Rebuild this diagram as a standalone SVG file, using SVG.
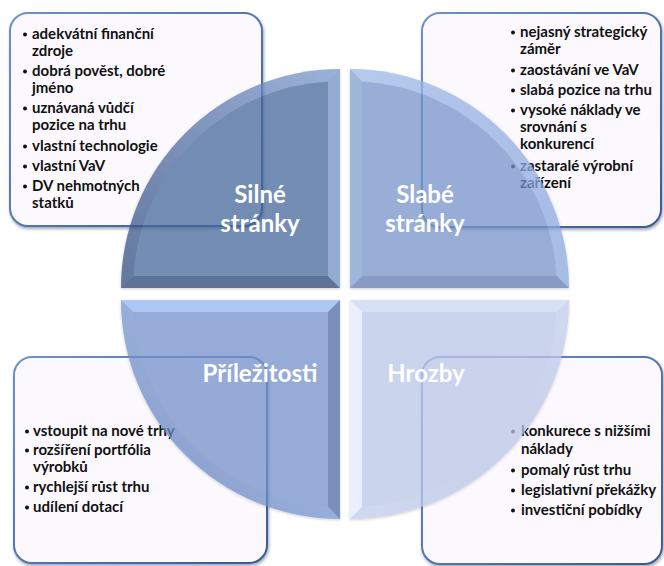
<svg xmlns="http://www.w3.org/2000/svg" width="664" height="566" viewBox="0 0 664 566">
<defs>
<filter id="boxShadow" x="-10%" y="-10%" width="125%" height="125%">
<feDropShadow dx="1" dy="2" stdDeviation="1.8" flood-color="#1a2a4a" flood-opacity="0.4"/>
</filter>
<filter id="qShadow" x="-10%" y="-10%" width="120%" height="120%">
<feDropShadow dx="0" dy="1" stdDeviation="1.5" flood-color="#404850" flood-opacity="0.35"/>
</filter>
<linearGradient id="boxStroke" x1="0" y1="0" x2="1" y2="1">
<stop offset="0" stop-color="#6f92c8"/>
<stop offset="1" stop-color="#3a5a94"/>
</linearGradient>
<linearGradient id="rimTL" x1="1" y1="0" x2="0" y2="1">
<stop offset="0" stop-color="#7a98cc"/>
<stop offset="1" stop-color="#2e4a7e"/>
</linearGradient>
<linearGradient id="rimTR" x1="0" y1="0" x2="1" y2="1">
<stop offset="0" stop-color="#9db8e6"/>
<stop offset="1" stop-color="#88a6dc"/>
</linearGradient>
<linearGradient id="rimBL" x1="1" y1="0" x2="0" y2="1">
<stop offset="0" stop-color="#8eaeea"/>
<stop offset="1" stop-color="#5d79b2"/>
</linearGradient>
<linearGradient id="rimBR" x1="0" y1="0" x2="1" y2="1">
<stop offset="0" stop-color="#d4def6"/>
<stop offset="1" stop-color="#aebbe0"/>
</linearGradient>
<style>
.box{fill:#fbf9fe;stroke:url(#boxStroke);stroke-width:2;filter:url(#boxShadow);}
.t{font-family:Lato,"Open Sans","Liberation Sans",sans-serif;font-weight:700;font-size:15px;fill:#111111;}
.b{fill:#111111;}
.lbl{font-family:Lato,"Open Sans","Liberation Sans",sans-serif;font-weight:700;font-size:24px;fill:#ffffff;text-anchor:middle;}
.q{opacity:0.75;filter:url(#qShadow);}
</style>
</defs>

<g id="box-silne">
<rect class="box" x="10" y="13" width="252" height="213" rx="18"/>
<g class="b">
<circle cx="25" cy="34.5" r="2"/><circle cx="25" cy="71.5" r="2"/><circle cx="25" cy="108.5" r="2"/>
<circle cx="25" cy="146.5" r="2"/><circle cx="25" cy="166.5" r="2"/><circle cx="25" cy="186.5" r="2"/>
</g>
<g class="t">
<text x="32" y="39">adekvátní finanční</text>
<text x="32" y="56">zdroje</text>
<text x="32" y="76">dobrá pověst, dobré</text>
<text x="32" y="93">jméno</text>
<text x="32" y="113">uznávaná vůdčí</text>
<text x="32" y="130">pozice na trhu</text>
<text x="32" y="151">vlastní technologie</text>
<text x="32" y="171">vlastní VaV</text>
<text x="32" y="191">DV nehmotných</text>
<text x="32" y="208">statků</text>
</g>
</g>

<g id="box-slabe">
<rect class="box" x="422" y="13" width="239" height="214" rx="18"/>
<g class="b">
<circle cx="513" cy="32.5" r="2"/><circle cx="513" cy="70.5" r="2"/><circle cx="513" cy="90.5" r="2"/>
<circle cx="513" cy="110.5" r="2"/><circle cx="513" cy="166.5" r="2"/>
</g>
<g class="t">
<text x="520" y="37">nejasný strategický</text>
<text x="520" y="54">záměr</text>
<text x="520" y="75">zaostávání ve VaV</text>
<text x="520" y="95">slabá pozice na trhu</text>
<text x="520" y="115">vysoké náklady ve</text>
<text x="520" y="132">srovnání s</text>
<text x="520" y="149">konkurencí</text>
<text x="520" y="171">zastaralé výrobní</text>
<text x="520" y="188">zařízení</text>
</g>
</g>

<g id="box-prilezitosti">
<rect class="box" x="14" y="357" width="253" height="206" rx="18"/>
<g class="b">
<circle cx="27" cy="431.5" r="2"/><circle cx="27" cy="450.5" r="2"/>
<circle cx="27" cy="487.5" r="2"/><circle cx="27" cy="507.5" r="2"/>
</g>
<g class="t">
<text x="33" y="436">vstoupit na nové trhy</text>
<text x="33" y="455">rozšíření portfólia</text>
<text x="33" y="472">výrobků</text>
<text x="33" y="492">rychlejší růst trhu</text>
<text x="33" y="512">udílení dotací</text>
</g>
</g>

<g id="box-hrozby">
<rect class="box" x="422" y="357" width="240" height="207" rx="18"/>
<g class="b">
<circle cx="513" cy="431.5" r="2"/><circle cx="513" cy="470.5" r="2"/>
<circle cx="513" cy="490.5" r="2"/><circle cx="513" cy="510.5" r="2"/>
</g>
<g class="t">
<text x="521" y="436">konkurece s nižšími</text>
<text x="521" y="454">náklady</text>
<text x="521" y="475">pomalý růst trhu</text>
<text x="521" y="495">legislativní překážky</text>
<text x="521" y="515">investiční pobídky</text>
</g>
</g>

<g id="quadrant-silne" class="q">
<path d="M340,288 L121,288 A219,219 0 0 1 340,69 Z" fill="url(#rimTL)"/>
<path d="M121,288 L340,288 L328,276 L133.4,276 Z" fill="#2a4473"/>
<path d="M340,288 L340,69 L328,81.4 L328,276 Z" fill="#7390c3"/>
<path d="M328,276 L133.4,276 A207,207 0 0 1 328,81.4 Z" fill="#45679c"/>
</g>
<g id="quadrant-slabe" class="q">
<path d="M350,288 L350,69 A219,219 0 0 1 569,288 Z" fill="url(#rimTR)"/>
<path d="M350,288 L569,288 L556.6,276 L362,276 Z" fill="#5f7aaf"/>
<path d="M350,288 L350,69 L362,81.4 L362,276 Z" fill="#809ed0"/>
<path d="M362,276 L362,81.4 A207,207 0 0 1 556.6,276 Z" fill="#7694ca"/>
</g>
<g id="quadrant-prilezitosti" class="q">
<path d="M340,300 L340,519 A219,219 0 0 1 121,300 Z" fill="url(#rimBL)"/>
<path d="M121,300 L340,300 L328,312 L133.4,312 Z" fill="#94b6f2"/>
<path d="M340,300 L340,519 L328,506.6 L328,312 Z" fill="#4f6ba6"/>
<path d="M328,312 L328,506.6 A207,207 0 0 1 133.4,312 Z" fill="#7390ca"/>
</g>
<g id="quadrant-hrozby" class="q">
<path d="M350,300 L569,300 A219,219 0 0 1 350,519 Z" fill="url(#rimBR)"/>
<path d="M350,300 L569,300 L556.6,312 L362,312 Z" fill="#cad7f2"/>
<path d="M350,300 L350,519 L362,506.6 L362,312 Z" fill="#e4ebfb"/>
<path d="M362,312 L556.6,312 A207,207 0 0 1 362,506.6 Z" fill="#bac6e7"/>
</g>

<g id="labels">
<text class="lbl" x="260" y="203">Silné</text>
<text class="lbl" x="260" y="232">stránky</text>
<text class="lbl" x="425" y="203">Slabé</text>
<text class="lbl" x="425" y="232">stránky</text>
<text class="lbl" x="260" y="382">Příležitosti</text>
<text class="lbl" x="426" y="382">Hrozby</text>
</g>
</svg>
